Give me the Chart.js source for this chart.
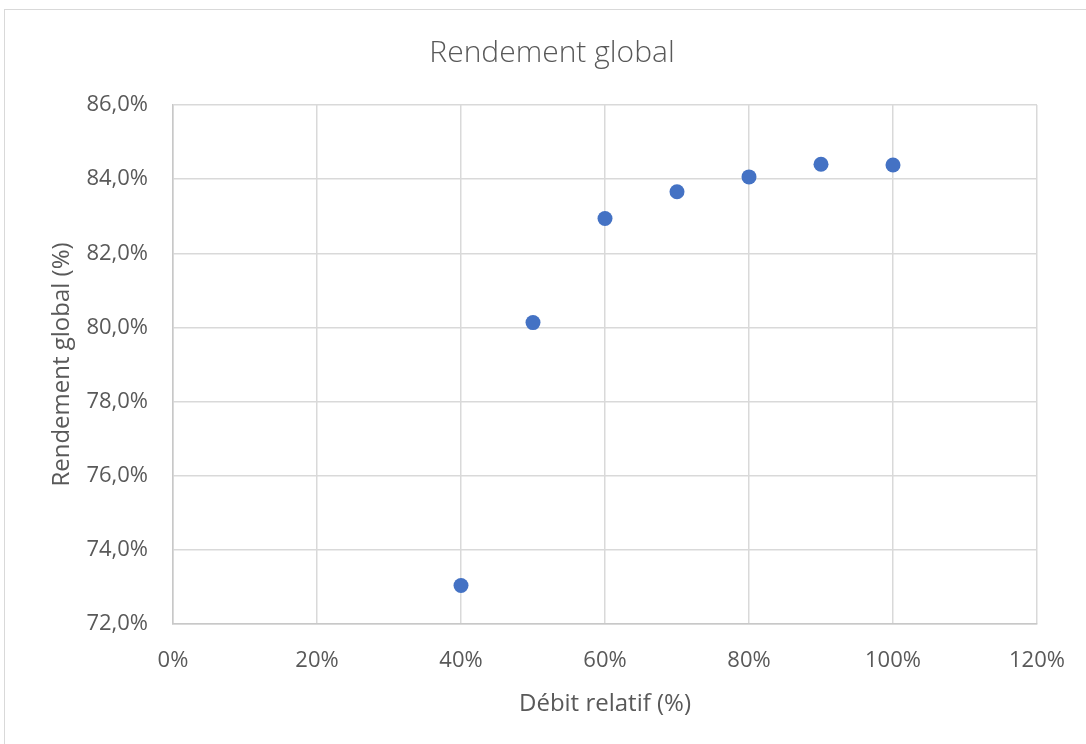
<!DOCTYPE html>
<html>
<head>
<meta charset="utf-8">
<script src="https://cdn.jsdelivr.net/npm/chart.js@4/dist/chart.umd.min.js"></script>
<style>
  html, body { margin: 0; padding: 0; background: #ffffff; overflow: hidden; }
  #frame { position: absolute; left: 4px; top: 9px; width: 1200px; height: 900px;
           border: 1px solid #d9d9d9; box-sizing: border-box; }
  #wrap { position: absolute; left: 0; top: 0; width: 1086px; height: 744px; }
</style>
</head>
<body>
<div id="frame"></div>
<div id="wrap"><canvas id="chart" width="1086" height="744"></canvas></div>
<script>
// Relative flow (%) and overall efficiency (%)
const debitRelatif = [40, 50, 60, 70, 80, 90, 100];
const rendementGlobal = [73.04, 80.13, 82.94, 83.66, 84.06, 84.40, 84.38];

const xMin = 0, xMax = 120, xStep = 20;
const yMin = 72, yMax = 86, yStep = 2;

const FONT = '"Open Sans", "Noto Sans", sans-serif';
const TEXT = '#595959';

const points = debitRelatif.map((x, i) => ({ x: x, y: rendementGlobal[i] }));

new Chart(document.getElementById('chart'), {
  type: 'scatter',
  data: {
    datasets: [{
      label: 'Rendement global',
      data: points,
      backgroundColor: '#4472C4',
      borderColor: '#4472C4',
      borderWidth: 0,
      pointRadius: 7.5,
      pointHoverRadius: 7.5
    }]
  },
  options: {
    responsive: false,
    animation: false,
    layout: { padding: { left: 18, right: 0, top: 0, bottom: 0 } },
    plugins: {
      legend: { display: false },
      tooltip: { enabled: false },
      title: {
        display: true,
        text: 'Rendement global',
        color: TEXT,
        font: { family: FONT, size: 30, weight: 300 },
        padding: { top: 35, bottom: 34 }
      }
    },
    scales: {
      x: {
        type: 'linear',
        min: xMin, max: xMax,
        afterFit: (s) => { s.height = 120; s.paddingLeft = 0; s.paddingRight = 0; },
        ticks: {
          stepSize: xStep,
          color: TEXT,
          padding: 24,
          font: { family: FONT, size: 22 },
          callback: (v) => v + '%'
        },
        grid: { color: '#d9d9d9', lineWidth: 1.5, drawTicks: false },
        border: { color: '#c8c8c8', width: 1.5 },
        title: {
          display: true,
          text: 'Débit relatif (%)',
          color: TEXT,
          font: { family: FONT, size: 24 },
          padding: { top: 0, bottom: 25 }
        }
      },
      y: {
        type: 'linear',
        min: yMin, max: yMax,
        afterFit: (s) => { s.width = 155; s.paddingTop = 0; s.paddingBottom = 0; },
        ticks: {
          stepSize: yStep,
          color: TEXT,
          padding: 25,
          font: { family: FONT, size: 22 },
          callback: (v) => v.toFixed(1).replace('.', ',') + '%'
        },
        grid: { color: '#d9d9d9', lineWidth: 1.5, drawTicks: false },
        border: { color: '#c8c8c8', width: 1.5 },
        title: {
          display: true,
          text: 'Rendement global (%)',
          color: TEXT,
          font: { family: FONT, size: 24 },
          padding: { top: 30, bottom: 0 }
        }
      },
      // empty right-hand margin of the plot
      margeDroite: {
        type: 'linear',
        position: 'right',
        min: yMin, max: yMax,
        afterFit: (s) => { s.width = 49; s.paddingTop = 0; s.paddingBottom = 0; },
        ticks: { display: false },
        grid: { display: false, drawTicks: false },
        border: { display: false }
      }
    }
  }
});
</script>
</body>
</html>
